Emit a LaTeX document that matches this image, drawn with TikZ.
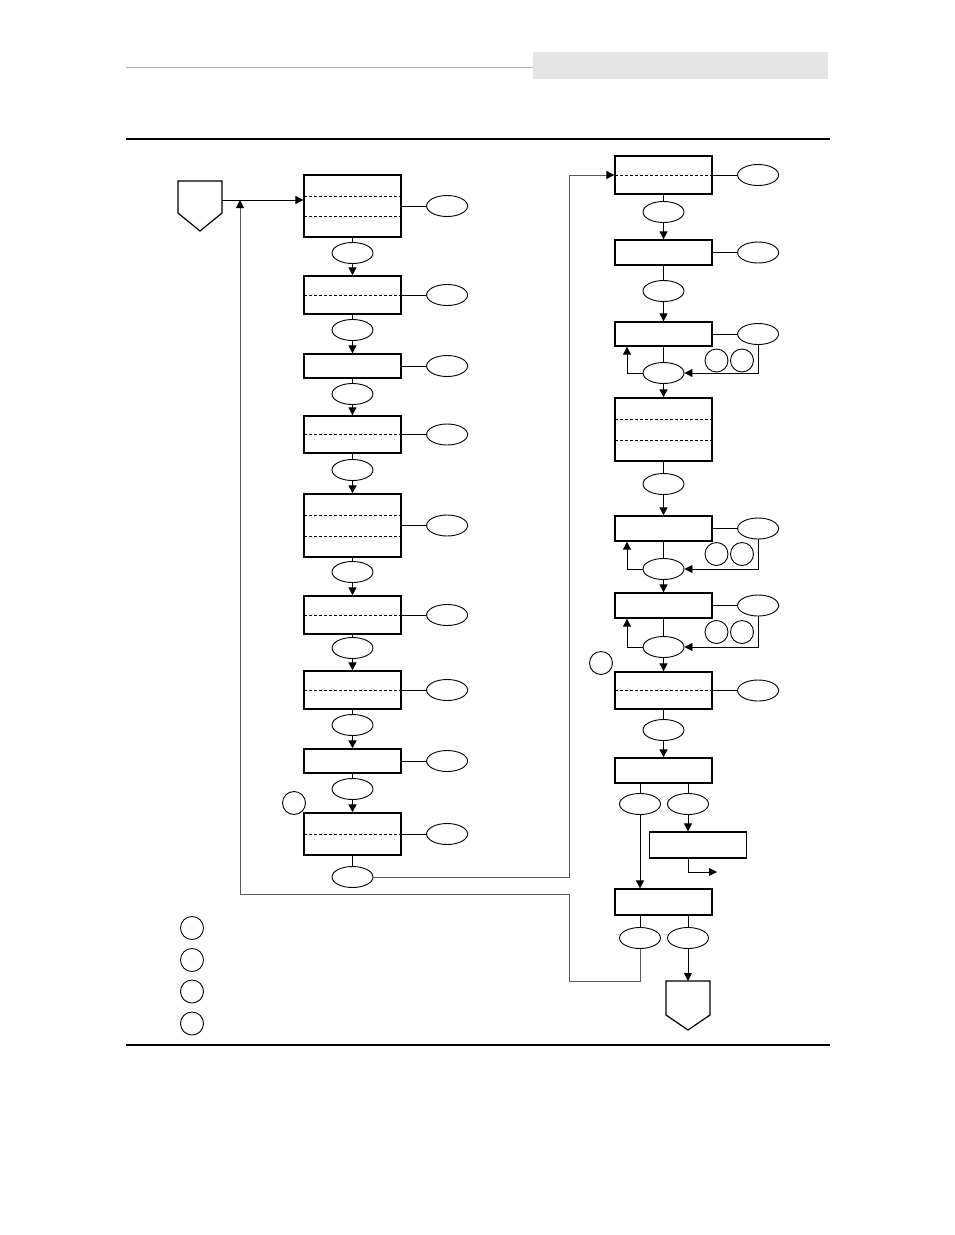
\documentclass[tikz,border=0pt]{standalone}
\usetikzlibrary{arrows.meta,shapes.geometric,positioning}
\begin{document}
\begin{tikzpicture}[x=1pt,y=-1pt,
    stepbox/.style={draw, line width=1.3pt, minimum width=97pt, inner sep=0pt},
    oval/.style={draw, ellipse, line width=0.9pt, minimum width=41pt, minimum height=21pt, inner sep=0pt},
    tag/.style={draw, circle, line width=0.9pt, minimum size=23pt, inner sep=0pt},
    dashln/.style={dash pattern=on 3pt off 2pt, line width=0.7pt},
    link/.style={line width=0.9pt},
    arr/.style={line width=0.9pt, -{Triangle[length=8pt,width=8pt,black]}},
    loopln/.style={line width=0.9pt, black!65}]

    \useasboundingbox (0,0) rectangle (954,1235);

    % Header
    \draw[black!30, line width=1pt] (126,67) -- (533,67);
    \fill[black!10] (533,52) rectangle (828,79);
    \draw[line width=2pt] (126,139) -- (830,139);
    \draw[line width=2.2pt] (126,1045) -- (830,1045);

    % Start and end marks
    \draw[line width=1.2pt] (178,181) -- (222,181) -- (222,213) -- (200,231) -- (178,213) -- cycle;
    \draw[line width=1.2pt] (666,981) -- (710,981) -- (710,1015) -- (688,1030) -- (666,1015) -- cycle;
    \coordinate (start) at (222,200);
    \coordinate (join) at (240,200);
    \coordinate (stop) at (688,981);

    % Left column boxes
    \node[stepbox, minimum height=62] (L1) at (352.5,206) {};
    \node[stepbox, minimum height=38] (L2) at (352.5,295) {};
    \node[stepbox, minimum height=24] (L3) at (352.5,366) {};
    \node[stepbox, minimum height=37] (L4) at (352.5,434.5) {};
    \node[stepbox, minimum height=63] (L5) at (352.5,525.5) {};
    \node[stepbox, minimum height=38] (L6) at (352.5,615) {};
    \node[stepbox, minimum height=38] (L7) at (352.5,690) {};
    \node[stepbox, minimum height=24] (L8) at (352.5,761) {};
    \node[stepbox, minimum height=42] (L9) at (352.5,834) {};
    \foreach \y in {196,216,295,434.5,515,536,615,690,834}
        \draw[dashln] (304,\y) -- (401,\y);

    % Left column ovals
    \foreach \n/\y in {1/253,2/330,3/394,4/470,5/572,6/648,7/725,8/789,9/877}
        \node[oval] (o\n) at (352.5,\y) {};
    \foreach \n in {1,...,9} {
        \node[oval, right=24.5pt of L\n] (s\n) {};
        \draw[link] (L\n) -- (s\n);
    }
    \foreach \a/\b in {1/2,2/3,3/4,4/5,5/6,6/7,7/8,8/9} {
        \draw[link] (L\a) -- (o\a);
        \draw[arr] (o\a) -- (L\b);
    }
    \draw[link] (L9) -- (o9);
    \node[tag] (c1) at (294,803) {};

    % Right column boxes
    \node[stepbox, minimum height=38] (R1) at (663.5,175) {};
    \node[stepbox, minimum height=25] (R2) at (663.5,252.5) {};
    \node[stepbox, minimum height=24] (R3) at (663.5,334) {};
    \node[stepbox, minimum height=63] (R4) at (663.5,429.5) {};
    \node[stepbox, minimum height=25] (R5) at (663.5,528.5) {};
    \node[stepbox, minimum height=25] (R6) at (663.5,605.5) {};
    \node[stepbox, minimum height=37] (R7) at (663.5,690.5) {};
    \node[stepbox, minimum height=25] (R8) at (663.5,770.5) {};
    \node[stepbox, minimum height=26] (R9) at (698,845) {};
    \node[stepbox, minimum height=26] (R10) at (663.5,902) {};
    \foreach \y in {175,419.5,440,690.5}
        \draw[dashln] (615,\y) -- (712,\y);

    % Right column ovals
    \foreach \n/\y in {1/212,2/291,3/373,4/484,5/569,6/647,7/730}
        \node[oval] (p\n) at (663.5,\y) {};
    \foreach \n in {1,2,3,5,6,7} {
        \node[oval, right=24.5pt of R\n] (q\n) {};
        \draw[link] (R\n) -- (q\n);
    }
    \foreach \a/\b in {1/2,2/3,3/4,4/5,5/6,6/7,7/8} {
        \draw[link] (R\a) -- (p\a);
        \draw[arr] (p\a) -- (R\b);
    }

    % Retry loops
    \foreach \n/\y in {3/360.5,5/554,6/632} {
        \node[tag] (u\n) at (716.5,\y) {};
        \node[tag] (v\n) at (742,\y) {};
        \draw[arr] (q\n.south) |- (p\n.east);
        \draw[arr] (p\n.west) -| ([xshift=-36.5pt]R\n.south);
    }
    \node[tag] (c2) at (601,663) {};

    % Branches
    \node[oval] (a1) at (640,804) {};
    \node[oval] (a2) at (688,804) {};
    \node[oval] (b1) at (640,938) {};
    \node[oval] (b2) at (688,938) {};
    \coordinate (out) at (717,872);
    \draw[link] (R8.south -| a1) -- (a1);
    \draw[link] (R8.south -| a2) -- (a2);
    \draw[arr] (a1) -- (a1 |- R10.north);
    \draw[arr] (a2) -- (a2 |- R9.north);
    \draw[arr] (R9.south -| a2) |- (out);
    \draw[link] (R10.south -| b1) -- (b1);
    \draw[link] (R10.south -| b2) -- (b2);
    \draw[arr] (b2) -- (stop);

    % Main flow and loops
    \draw[arr] (start) -- (start -| L1.west);
    \draw[loopln, arr] (o9.east) -| (569,175) -- (R1.west |- 0,175);
    \draw[loopln, arr] (b1.south) |- (569,981) |- (240,894) -- (join);

    % Legend
    \foreach \y [count=\i] in {928,960,991.5,1023.5}
        \node[tag] (k\i) at (192,\y) {};

\end{tikzpicture}
\end{document}
